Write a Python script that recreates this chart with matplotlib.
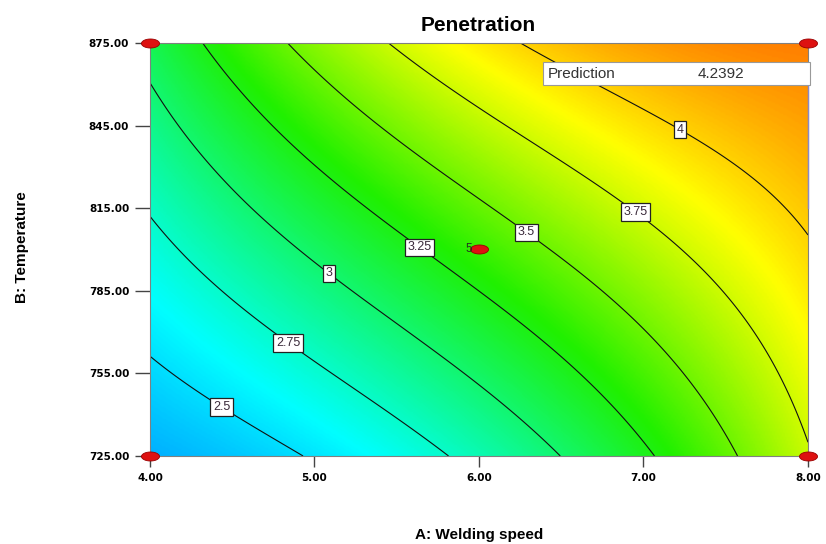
import numpy as np
import matplotlib
matplotlib.use("Agg")
from matplotlib import pyplot as plt
from matplotlib.colors import LinearSegmentedColormap
from matplotlib.patches import Rectangle

trace_A = [4.00, 4.45, 4.92,
           4.00, 4.26, 4.85, 5.64, 5.81,
           4.00, 4.71, 5.09, 5.52, 6.49,
           4.33, 5.64, 6.19, 6.66, 7.06,
           4.83, 5.64, 6.29, 6.54, 7.14, 7.57,
           5.44, 6.13, 6.95, 7.34, 7.75, 8.00,
           6.23, 6.69, 7.21, 8.00,
           6.00, 8.00]
trace_T = [760.0, 744.2, 725.0,
           810.0, 792.6, 766.8, 733.4, 725.0,
           859.7, 815.4, 791.5, 769.7, 725.0,
           875.0, 800.9, 776.9, 752.6, 725.0,
           875.0, 832.5, 806.4, 792.6, 764.6, 725.0,
           875.0, 849.6, 813.6, 792.6, 764.6, 729.7,
           875.0, 859.0, 844.5, 804.2,
           800.0, 875.0]
trace_Z = [2.5, 2.5, 2.5,
           2.75, 2.75, 2.75, 2.75, 2.75,
           3.0, 3.0, 3.0, 3.0, 3.0,
           3.25, 3.25, 3.25, 3.25, 3.25,
           3.5, 3.5, 3.5, 3.5, 3.5, 3.5,
           3.75, 3.75, 3.75, 3.75, 3.75, 3.75,
           4.0, 4.0, 4.0, 4.0,
           3.37, 4.2392]

levels = [2.5, 2.75, 3.0, 3.25, 3.5, 3.75, 4.0]
label_pos = [(4.45, 744.2), (4.85, 766.8), (5.09, 791.5), (5.64, 800.9),
             (6.29, 806.4), (6.95, 813.6), (7.23, 844.5)]

design_A = [4, 4, 8, 8, 6]
design_T = [725, 875, 725, 875, 800]

x_ticks = [4, 5, 6, 7, 8]
y_ticks = [725, 755, 785, 815, 845, 875]

prediction = 4.2392


def terms(a, b):
    return [np.ones_like(a), a, b, a*b, a**2, b**2, a**2*b, a*b**2]

# reduced cubic fit in coded units
ca = (np.array(trace_A) - 6) / 2
cb = (np.array(trace_T) - 800) / 75
M = np.column_stack(terms(ca, cb))
coef = np.linalg.lstsq(M, np.array(trace_Z), rcond=None)[0]

gA = np.linspace(4, 8, 400)
gT = np.linspace(725, 875, 300)
AA, TT = np.meshgrid(gA, gT)
ga = (AA - 6) / 2
gb = (TT - 800) / 75
Z = sum(c*t for c, t in zip(coef, terms(ga, gb)))

vmin, vmax = 2.0, 4.6
stops = [(2.0, '#0050ff'), (2.6, '#00ffff'), (3.3, '#20f000'), (3.88, '#ffff00'), (4.6, '#ff0000')]
cmap = LinearSegmentedColormap.from_list(
    'dx', [((v - vmin)/(vmax - vmin), c) for v, c in stops])

fig = plt.figure(figsize=(8.26, 5.44), dpi=100)
ax = fig.add_axes([0.1816, 0.1618, 0.7966, 0.7592])

ax.imshow(Z, origin='lower', extent=[4, 8, 725, 875], aspect='auto',
          cmap=cmap, vmin=vmin, vmax=vmax, interpolation='bilinear')
cs = ax.contour(AA, TT, Z, levels=levels, colors='#111111', linewidths=0.8)
lbls = ax.clabel(cs, fmt='%g', manual=label_pos, inline=False, fontsize=9, colors='#3a2a3a')
for t in lbls:
    t.set_rotation(0)
    t.set_bbox(dict(facecolor='white', edgecolor='#222222', linewidth=0.9, pad=2))
    t.set_zorder(5)
    t.set_fontfamily('Liberation Sans')

ax.set_xlim(4, 8)
ax.set_ylim(725, 875)
ax.set_xticks(x_ticks)
ax.set_xticklabels(['%.2f' % v for v in x_ticks])
ax.set_yticks(y_ticks)
ax.set_yticklabels(['%.2f' % v for v in y_ticks])
ax.tick_params(axis='y', length=11, width=1, color='#444444', pad=4)
ax.tick_params(axis='x', length=8, width=1, color='#444444', pad=4)
for lab in ax.get_xticklabels() + ax.get_yticklabels():
    lab.set_fontfamily('DejaVu Sans')
    lab.set_fontweight('bold')
    lab.set_fontsize(7.5)
for s in ax.spines.values():
    s.set_color('#808080')
    s.set_linewidth(0.8)

# design points
th = np.linspace(0, 2*np.pi, 40)
ell = list(zip(1.0*np.cos(th), 0.5*np.sin(th)))
ax.plot(design_A, design_T, linestyle='none', marker=ell, markersize=13,
        markerfacecolor='#dd1111', markeredgecolor='#990000', markeredgewidth=0.6,
        clip_on=False, zorder=6)
ax.text(5.96, 800, '5', ha='right', va='center', fontsize=8.5,
        family='Liberation Sans', color='#223322', zorder=6)

# prediction flag
ax.add_patch(Rectangle((0.597, 0.898), 0.406, 0.056, transform=ax.transAxes,
                       facecolor='white', edgecolor='#999999', linewidth=0.8,
                       clip_on=False, zorder=7))
ax.text(0.605, 0.926, 'Prediction', transform=ax.transAxes, ha='left', va='center',
        fontsize=11, family='Liberation Sans', color='#333333', zorder=8)
ax.text(0.833, 0.926, '%.4f' % prediction, transform=ax.transAxes, ha='left', va='center',
        fontsize=11, family='Liberation Sans', color='#333333', zorder=8)
ax.plot([1, 1], [0.898, 0.6], transform=ax.transAxes, color='#8888cc',
        linewidth=1, clip_on=False, zorder=6)

fig.text(0.5787, 0.954, 'Penetration', ha='center', va='center', fontsize=15,
         fontweight='bold', family='Liberation Sans')
fig.text(0.5799, 0.0165, 'A: Welding speed', ha='center', va='center', fontsize=11,
         fontweight='semibold', family='Liberation Sans')
fig.text(0.0266, 0.546, 'B: Temperature', ha='center', va='center', fontsize=11,
         fontweight='semibold', rotation=90, family='Liberation Sans')

fig.savefig('out.png', dpi=100)
